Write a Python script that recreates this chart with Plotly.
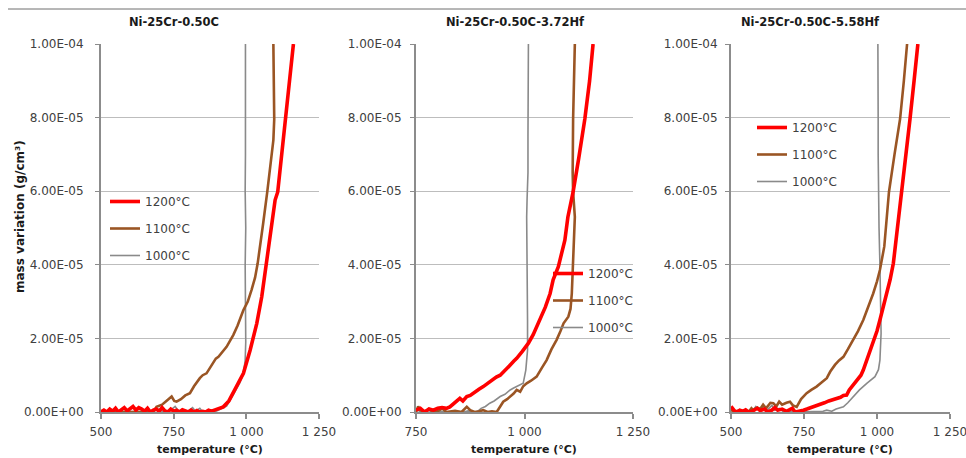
import numpy as np
import plotly.graph_objects as go

# ---------------- data (mass variation in units of 1e-5 g/cm2) ----------------
# Panel 1: Ni-25Cr-0.50C
p1_T_1200 = [500, 510, 520, 530, 540, 550, 560, 570, 580, 590, 600, 610, 620, 630, 640, 650, 660, 670,
             680, 690, 700, 710, 720, 730, 740, 750, 760, 770, 780, 790, 800, 810, 820, 830, 840, 850,
             860, 870, 880, 890, 900, 921, 940, 955, 970, 990, 1013, 1036, 1053, 1068, 1085, 1099,
             1108, 1120, 1133, 1148, 1162]
p1_m_1200 = [0, 0.05, 0, 0.08, 0.02, 0.1, 0, 0.06, 0.12, 0.03, 0.1, 0.15, 0.05, 0.12, 0.08, 0.02, 0.1, 0,
             0.05, 0.08, 0.02, 0.12, 0.03, 0, 0.08, 0.02, 0.05, 0, 0.06, 0.02, 0, 0.05, 0, 0.04, 0, 0.02,
             0, 0.05, 0.02, 0.05, 0.08, 0.14, 0.3, 0.51, 0.72, 1.05, 1.68, 2.41, 3.13, 3.99, 4.9, 5.76,
             5.98, 6.9, 7.96, 9.0, 10.0]
p1_T_1100 = [500, 560, 620, 680, 691, 710, 725, 743, 752, 760, 775, 790, 806, 820, 840, 850, 863, 880,
             895, 904, 918, 932, 955, 970, 990, 1005, 1018, 1030, 1039, 1050, 1058, 1072, 1084, 1093,
             1096, 1095, 1093]
p1_m_1100 = [0, 0, 0, 0, 0.14, 0.2, 0.3, 0.42, 0.3, 0.28, 0.35, 0.45, 0.51, 0.7, 0.92, 1.0, 1.05, 1.25,
             1.45, 1.5, 1.62, 1.77, 2.09, 2.35, 2.77, 3.0, 3.32, 3.65, 4.04, 4.6, 5.13, 5.98, 6.76, 7.39,
             7.96, 9.0, 10.0]
p1_T_1000 = [500, 550, 600, 650, 680, 700, 710, 720, 740, 755, 765, 780, 800, 815, 825, 840, 850, 870,
             885, 898, 915, 932, 950, 965, 978, 990, 996, 998, 997, 996, 998, 996, 997, 996, 997, 997]
p1_m_1000 = [0, 0, 0, 0, 0.02, 0.08, 0.02, 0, 0.05, 0.15, 0.05, 0, 0.03, 0.12, 0.02, 0.1, 0, 0.02,
             0, 0.03, 0.1, 0.16, 0.4, 0.62, 0.8, 1.05, 1.4, 1.9, 3.0, 4.0, 5.0, 6.0, 7.0, 8.0, 9.0, 10.0]

# Panel 2: Ni-25Cr-0.50C-3.72Hf
p2_T_1200 = [750, 760, 770, 780, 790, 800, 810, 820, 828, 840, 851, 858, 867, 875, 885, 895, 905, 915,
             925, 935, 944, 955, 965, 975, 982, 995, 1009, 1020, 1036, 1048, 1059, 1066, 1078, 1093,
             1100, 1112, 1125, 1139, 1150, 1158]
p2_m_1200 = [0.05, 0.1, 0, 0.08, 0.05, 0.1, 0.12, 0.1, 0.14, 0.25, 0.37, 0.3, 0.42, 0.45, 0.55, 0.62,
             0.69, 0.78, 0.85, 0.95, 1.0, 1.15, 1.25, 1.38, 1.46, 1.65, 1.87, 2.1, 2.5, 2.85, 3.22, 3.59,
             3.95, 4.67, 5.3, 5.98, 6.9, 7.96, 9.0, 10.0]
p2_T_1100 = [750, 755, 760, 770, 780, 790, 800, 810, 820, 840, 855, 867, 875, 885, 895, 905, 915, 925,
             936, 945, 951, 960, 967, 975, 982, 990, 997, 1005, 1015, 1028, 1040, 1051, 1062, 1074,
             1083, 1090, 1101, 1106, 1109, 1112, 1114, 1116, 1112, 1111, 1112, 1114, 1116]
p2_m_1100 = [0, 0.15, 0.05, 0, 0.08, 0, 0.02, 0.1, 0, 0.03, 0, 0.14, 0.05, 0, 0.02, 0.05, 0, 0.02,
             0, 0.15, 0.28, 0.35, 0.42, 0.5, 0.6, 0.55, 0.7, 0.78, 0.85, 0.96, 1.2, 1.41, 1.7, 1.96,
             2.2, 2.41, 2.59, 2.8, 3.22, 3.95, 4.67, 5.3, 5.98, 6.5, 7.96, 9.0, 10.0]
p2_T_1000 = [750, 760, 775, 790, 800, 820, 840, 860, 870, 880, 890, 900, 910, 920, 930, 944, 955, 967,
             975, 982, 990, 997, 1003, 1007, 1007, 1006, 1006, 1005, 1006, 1008, 1008, 1009, 1009]
p2_m_1000 = [0.1, 0, 0.05, 0, 0.03, 0, 0.02, 0, 0.03, 0, 0, 0.1, 0.15, 0.24, 0.3, 0.42, 0.48, 0.6,
             0.65, 0.69, 0.72, 0.78, 1.14, 1.68, 2.5, 3.5, 4.5, 5.3, 5.8, 6.5, 7.5, 8.5, 10.0]

# Panel 3: Ni-25Cr-0.50C-5.58Hf
p3_T_1200 = [500, 510, 520, 530, 540, 550, 560, 575, 590, 600, 615, 625, 640, 650, 660, 675, 690, 700,
             710, 720, 735, 748, 760, 775, 790, 805, 820, 835, 850, 862, 875, 885, 896, 905, 919, 935,
             945, 953, 965, 975, 987, 1000, 1010, 1022, 1033, 1045, 1056, 1070, 1086, 1100, 1113,
             1127, 1140]
p3_m_1200 = [0.15, 0.05, 0, 0.05, 0.02, 0.06, 0, 0.03, 0.1, 0.04, 0.08, 0, 0.05, 0.12, 0.05, 0.08, 0.02,
             0.05, 0.1, 0, 0.02, 0.05, 0.08, 0.12, 0.15, 0.19, 0.25, 0.3, 0.33, 0.37, 0.4, 0.45, 0.46,
             0.6, 0.73, 0.9, 1.0, 1.14, 1.4, 1.6, 1.87, 2.2, 2.5, 2.85, 3.22, 3.6, 4.04, 5.0, 5.98, 6.9,
             7.96, 9.0, 10.0]
p3_T_1100 = [500, 515, 530, 545, 560, 570, 576, 590, 600, 610, 620, 635, 645, 655, 665, 675, 690, 702,
             712, 725, 740, 759, 775, 793, 810, 828, 840, 856, 870, 885, 900, 919, 935, 953, 970, 987,
             1000, 1010, 1025, 1041, 1060, 1079, 1092, 1103]
p3_m_1100 = [0.05, 0, 0.05, 0, 0, 0.1, 0.05, 0.12, 0.08, 0.2, 0.1, 0.25, 0.24, 0.15, 0.28, 0.2, 0.25,
             0.28, 0.18, 0.14, 0.35, 0.51, 0.6, 0.69, 0.8, 0.92, 1.1, 1.28, 1.4, 1.5, 1.7, 1.96, 2.2,
             2.5, 2.85, 3.22, 3.55, 3.86, 4.5, 5.98, 7.0, 7.96, 9.0, 10.0]
p3_T_1000 = [500, 520, 540, 560, 575, 585, 595, 610, 620, 630, 640, 650, 665, 680, 700, 720, 740, 760,
             780, 800, 815, 828, 845, 860, 872, 885, 900, 919, 940, 965, 980, 993, 1005, 1010, 1014,
             1013, 1010, 1007, 1005, 1004, 1004, 1003, 1003]
p3_m_1000 = [0.05, 0, 0.02, 0, 0.05, 0.15, 0.05, 0.12, 0.02, 0.1, 0.18, 0.05, 0.1, 0, 0.02, 0, 0, 0,
             0.02, 0, 0.02, 0.05, 0.02, 0.08, 0.1, 0.14, 0.25, 0.42, 0.6, 0.78, 0.88, 0.96, 1.15, 1.41,
             2.14, 3.0, 4.0, 5.0, 6.0, 7.0, 8.0, 9.0, 10.0]

panel_titles = ["Ni-25Cr-0.50C", "Ni-25Cr-0.50C-3.72Hf", "Ni-25Cr-0.50C-5.58Hf"]
series_names = ["1200°C", "1100°C", "1000°C"]
y_tickvals = [0, 2e-5, 4e-5, 6e-5, 8e-5, 1e-4]
y_ticktext = ["0.00E+00", "2.00E-05", "4.00E-05", "6.00E-05", "8.00E-05", "1.00E-04"]
x_tickvals_full = [500, 750, 1000, 1250]
x_ticktext_full = ["500", "750", "1 000", "1 250"]
x_tickvals_p2 = [750, 1000, 1250]
x_ticktext_p2 = ["750", "1 000", "1 250"]

# ---------------- styling ----------------
W, H = 966, 458
FONT = "DejaVu Sans"
TXT = "#404040"
AXC = "#8c8c8c"
GRID = "#bdbdbd"
colors = {"1200°C": "#ff0000", "1100°C": "#9a5524", "1000°C": "#8a8a8a"}
widths = {"1200°C": 3.6, "1100°C": 2.6, "1000°C": 1.6}
ranks = {"1200°C": 1, "1100°C": 2, "1000°C": 3}

def px_x(p):
    return p / W

def px_y(p):
    return (H - p) / H

panels = [
    dict(data={"1200°C": (p1_T_1200, p1_m_1200), "1100°C": (p1_T_1100, p1_m_1100),
               "1000°C": (p1_T_1000, p1_m_1000)},
         dom=(101, 319), xr=[500, 1250], tv=x_tickvals_full, tt=x_ticktext_full,
         legend="legend", title_x=174, xt_x=210, ystand=9),
    dict(data={"1200°C": (p2_T_1200, p2_m_1200), "1100°C": (p2_T_1100, p2_m_1100),
               "1000°C": (p2_T_1000, p2_m_1000)},
         dom=(416, 633), xr=[750, 1250], tv=x_tickvals_p2, tt=x_ticktext_p2,
         legend="legend2", title_x=515, xt_x=524, ystand=6),
    dict(data={"1200°C": (p3_T_1200, p3_m_1200), "1100°C": (p3_T_1100, p3_m_1100),
               "1000°C": (p3_T_1000, p3_m_1000)},
         dom=(731, 950), xr=[500, 1250], tv=x_tickvals_full, tt=x_ticktext_full,
         legend="legend3", title_x=810, xt_x=840, ystand=5),
]

fig = go.Figure()
layout = dict(width=W, height=H, margin=dict(l=0, r=0, t=0, b=0, autoexpand=False),
              paper_bgcolor="white", plot_bgcolor="white",
              font=dict(family=FONT, size=12, color=TXT), showlegend=True)

annotations = []
for i, p in enumerate(panels):
    k = "" if i == 0 else str(i + 1)
    xa, ya = "x" + k, "y" + k
    for name in ["1000°C", "1100°C", "1200°C"]:
        T, m = p["data"][name]
        fig.add_trace(go.Scatter(
            x=T, y=np.array(m) * 1e-5, mode="lines", name=name,
            line=dict(color=colors[name], width=widths[name]),
            xaxis=xa, yaxis=ya, legend=p["legend"], legendgroup=p["legend"] + name,
            legendrank=ranks[name], hoverinfo="skip"))
    layout["xaxis" + k] = dict(
        domain=[px_x(p["dom"][0]), px_x(p["dom"][1])], range=p["xr"], anchor=ya,
        tickvals=p["tv"], ticktext=p["tt"], showgrid=False, zeroline=False,
        showline=True, linecolor=AXC, linewidth=2, ticks="outside", ticklen=5,
        tickcolor=AXC, tickwidth=1.5, tickfont=dict(family=FONT, size=12, color=TXT),
        ticklabelstandoff=3, ticklabeloverflow="allow", automargin=False)
    layout["yaxis" + k] = dict(
        domain=[px_y(412), px_y(44)], range=[0, 1e-4], anchor=xa,
        tickvals=y_tickvals, ticktext=y_ticktext, showgrid=True, gridcolor=GRID, gridwidth=1.3,
        zeroline=False, showline=True, linecolor=AXC, linewidth=2, ticks="outside", ticklen=4,
        tickcolor=AXC, tickfont=dict(family=FONT, size=12, color=TXT),
        ticklabelstandoff=p["ystand"], ticklabeloverflow="allow", automargin=False)
    annotations.append(dict(text="<b>%s</b>" % panel_titles[i], x=px_x(p["title_x"]), y=px_y(22),
                            xref="paper", yref="paper", showarrow=False,
                            xanchor="center", yanchor="middle",
                            font=dict(family=FONT, size=11.5, color="#1a1a1a")))
    annotations.append(dict(text="<b>temperature (°C)</b>", x=px_x(p["xt_x"]), y=px_y(449),
                            xref="paper", yref="paper", showarrow=False,
                            xanchor="center", yanchor="middle",
                            font=dict(family=FONT, size=11, color="#1a1a1a")))

annotations.append(dict(text="<b>mass variation (g/cm³)</b>", x=px_x(20), y=px_y(217),
                        xref="paper", yref="paper", showarrow=False, textangle=-90,
                        xanchor="center", yanchor="middle",
                        font=dict(family=FONT, size=12, color="#1a1a1a")))

leg_common = dict(bgcolor="rgba(0,0,0,0)", borderwidth=0, xanchor="left", yanchor="top",
                  font=dict(family=FONT, size=12, color=TXT), tracegroupgap=8,
                  traceorder="grouped")
layout["legend"] = dict(leg_common, x=px_x(105), y=px_y(187))
layout["legend2"] = dict(leg_common, x=px_x(548), y=px_y(259))
layout["legend3"] = dict(leg_common, x=px_x(752), y=px_y(113))
layout["annotations"] = annotations
layout["shapes"] = [dict(type="line", xref="paper", yref="paper", x0=px_x(8), x1=1,
                         y0=px_y(9), y1=px_y(9), line=dict(color="#6e6e6e", width=1))]

fig.update_layout(**layout)
fig.write_html("out.html", config={"displayModeBar": False},
               post_script="document.body.style.margin='0px';document.body.style.overflow='hidden';")
